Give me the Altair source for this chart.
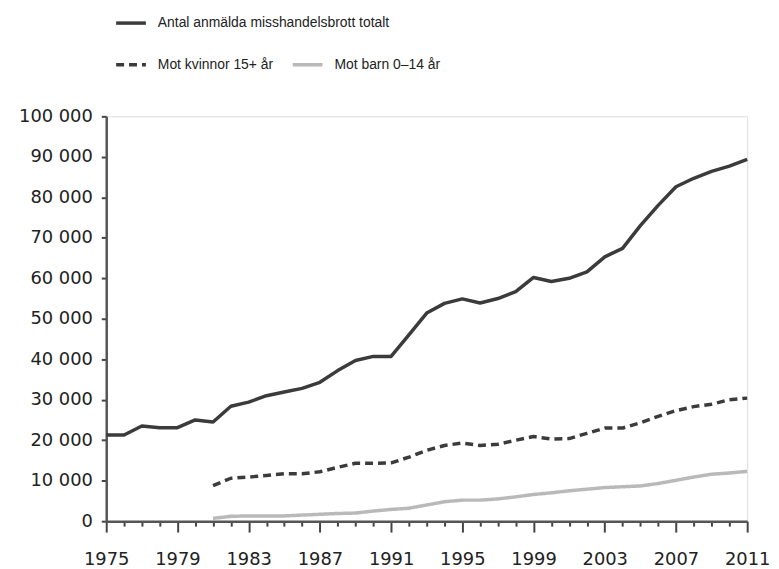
import altair as alt
import pandas as pd

label_total = "Antal anmälda misshandelsbrott totalt"
label_women = "Mot kvinnor 15+ år"
label_child = "Mot barn 0–14 år"

years_total = list(range(1975, 2012))
total = [21300, 21300, 23500, 23100, 23100, 25000, 24500, 28400, 29400, 31000,
         31900, 32800, 34300, 37200, 39700, 40700, 40700, 46000, 51400, 53800,
         54900, 53900, 55000, 56700, 60200, 59200, 60000, 61600, 65300, 67400,
         73000, 78000, 82600, 84700, 86400, 87700, 89400]

years_sub = list(range(1981, 2012))
women = [8800, 10600, 10900, 11300, 11700, 11700, 12200, 13300, 14300, 14300,
         14400, 15800, 17500, 18700, 19300, 18700, 19000, 20000, 20900, 20300,
         20400, 21700, 23000, 23000, 24300, 25900, 27300, 28300, 28900, 30000,
         30400]
children = [700, 1200, 1300, 1300, 1300, 1500, 1700, 1900, 2000, 2500,
            2900, 3200, 4000, 4800, 5200, 5200, 5500, 6000, 6600, 7000,
            7500, 7900, 8300, 8500, 8700, 9300, 10100, 10900, 11600, 11900,
            12300]

x_ticks = list(range(1975, 2012))
y_ticks = list(range(0, 100001, 10000))

df_total = pd.DataFrame({"year": years_total, "value": total, "series": label_total})
df_sub = pd.concat([
    pd.DataFrame({"year": years_sub, "value": women, "series": label_women}),
    pd.DataFrame({"year": years_sub, "value": children, "series": label_child}),
])

DARK = "#3b3b3b"
LIGHT = "#b9b9b9"
TXT = "#222222"

x_enc = alt.X(
    "year:Q",
    scale=alt.Scale(domain=[1975, 2011], nice=False, zero=False),
    axis=alt.Axis(
        values=x_ticks, format="d", title=None, grid=False,
        labelExpr="(datum.value - 1975) % 4 == 0 ? datum.label : ''",
        tickSize={"condition": {"test": "(datum.value - 1975) % 4 == 0", "value": 11}, "value": 5},
        tickWidth=2, tickColor="#444", domainColor="#555", domainWidth=2.5,
        labelFont="DejaVu Sans", labelFontSize=18, labelColor=TXT,
        labelPadding=19, labelFlush=False, labelOverlap=False,
    ),
)
y_enc = alt.Y(
    "value:Q",
    scale=alt.Scale(domain=[0, 100000], nice=False),
    axis=alt.Axis(
        values=y_ticks, title=None, grid=False,
        labelExpr="replace(format(datum.value, ','), ',', ' ')",
        tickSize=5, tickWidth=2, tickColor="#444", domainColor="#555", domainWidth=2.5,
        labelFont="DejaVu Sans", labelFontSize=18, labelColor=TXT,
        labelPadding=9, labelFlush=False, labelOverlap=False,
    ),
)

common_leg = dict(
    title=None, orient="none", symbolType="stroke", symbolSize=900,
    symbolStrokeWidth=3.5, labelFont="Liberation Sans", labelFontSize=14,
    labelColor=TXT, labelOffset=10, labelLimit=0, padding=0,
)

leg_total = alt.Legend(legendX=8, legendY=-111, **common_leg)
leg_sub = alt.Legend(legendX=8, legendY=-69, direction="horizontal",
                     columnPadding=12, **common_leg)

line_total = alt.Chart(df_total).mark_line(strokeWidth=3.5, strokeJoin="round").encode(
    x=x_enc, y=y_enc,
    color=alt.Color("series:N", scale=alt.Scale(domain=[label_total], range=[DARK]),
                    legend=leg_total),
)

line_sub = alt.Chart(df_sub).mark_line(strokeWidth=3.5, strokeJoin="round").encode(
    x=x_enc, y=y_enc,
    color=alt.Color("series:N", scale=alt.Scale(domain=[label_women, label_child],
                                                range=[DARK, LIGHT]),
                    legend=leg_sub),
    strokeDash=alt.StrokeDash("series:N", scale=alt.Scale(domain=[label_women, label_child],
                                                          range=[[8, 5], [1, 0]]),
                              legend=leg_sub),
)

chart = alt.layer(line_sub, line_total).resolve_scale(
    color="independent", strokeDash="independent"
).resolve_legend(
    color="independent", strokeDash="independent"
).properties(
    width=646, height=408,
    padding={"left": 99, "top": 107, "right": 24, "bottom": 46},
    autosize=alt.AutoSizeParams(type="none"),
).configure_view(
    stroke="#cccccc", strokeWidth=1.5
).configure(background="white")

chart.save("out.html", embed_options={"renderer": "svg", "actions": False})
